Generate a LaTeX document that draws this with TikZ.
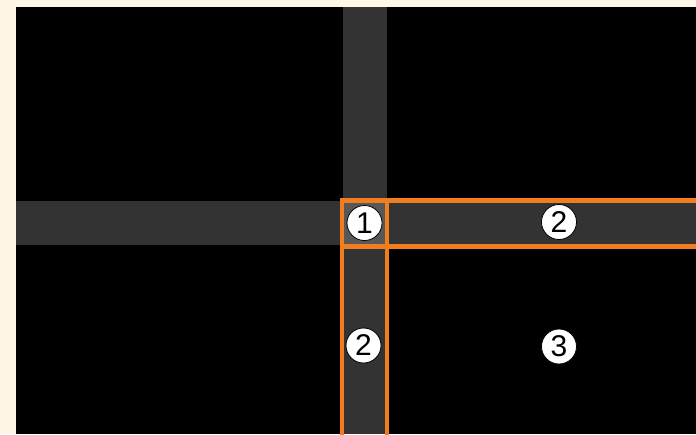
\documentclass[tikz,border=0pt]{standalone}
\usepackage{fontspec}
\setmainfont{Liberation Sans}
\definecolor{cream}{HTML}{FFF7E6}
\definecolor{band}{HTML}{333333}
\definecolor{cellone}{HTML}{585858}
\definecolor{edge}{HTML}{F07E1E}
\tikzset{
  num/.style={circle,draw=black,line width=0.8pt,fill=white,minimum size=35pt,inner sep=0pt,font=\fontsize{30}{30}\selectfont},
  orange/.style={draw=edge,line width=4.8pt}
}
\begin{document}
\begin{tikzpicture}[x=1pt,y=-1pt]
\useasboundingbox (0,0) rectangle (696,434);
\fill[cream] (0,0) rectangle (696,434);
\fill[black] (16,7) rectangle (696,434);
\fill[band] (343,7) rectangle (386.5,434);
\fill[band] (16,201) rectangle (696,245);
\fill[cellone] (342,200.5) rectangle (387,246.5);
\begin{scope}
\clip (0,0) rectangle (696,434);
\draw[orange] (342,200.5) rectangle (387,246.5);
\draw[orange] (387,200.5) rectangle (710,246.5);
\draw[orange] (342,246.5) rectangle (387,450);
\end{scope}
\node[num] (n1) at (364.5,223) {1};
\node[num] (n2a) at (559,222) {2};
\node[num] (n2b) at (363.5,345.5) {2};
\node[num] (n3) at (559,346.5) {3};
\end{tikzpicture}
\end{document}
